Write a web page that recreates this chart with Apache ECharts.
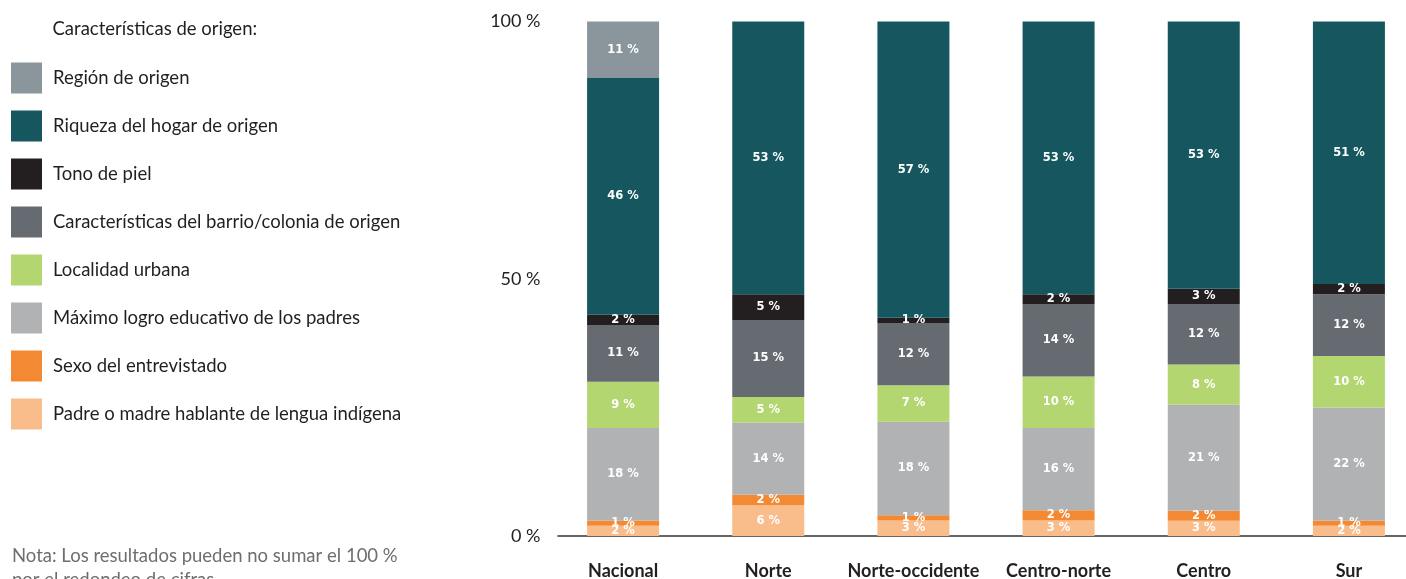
<!DOCTYPE html>
<html>
<head>
<meta charset="utf-8">
<script src="https://cdn.jsdelivr.net/npm/echarts@6/dist/echarts.min.js"></script>
<style>
  html, body { margin: 0; padding: 0; background: #ffffff; }
  #chart { width: 1406px; height: 579px; }
</style>
</head>
<body>
<div id="chart"></div>
<script>
// Regions compared
const categories = ['Nacional', 'Norte', 'Norte-occidente', 'Centro-norte', 'Centro', 'Sur'];

// Share (%) of inequality of opportunity attributed to each origin characteristic
const padreMadreIndigena = [2, 6, 3, 3, 3, 2];
const sexoEntrevistado   = [1, 2, 1, 2, 2, 1];
const maximoLogroPadres  = [18, 14, 18, 16, 21, 22];
const localidadUrbana    = [9, 5, 7, 10, 8, 10];
const barrioColonia      = [11, 15, 12, 14, 12, 12];
const tonoPiel           = [2, 5, 1, 2, 3, 2];
const riquezaHogar       = [46, 53, 57, 53, 53, 51];
const regionOrigen       = [11, 0, 0, 0, 0, 0];

const yTicks = [0, 50, 100];

const legendTitle = 'Características de origen:';
const noteLines = ['Nota: Los resultados pueden no sumar el 100 %', 'por el redondeo de cifras.'];

// Stack order, bottom to top
const layers = [
  { name: 'Padre o madre hablante de lengua indígena', values: padreMadreIndigena, color: '#f9bd8c' },
  { name: 'Sexo del entrevistado', values: sexoEntrevistado, color: '#f38a33' },
  { name: 'Máximo logro educativo de los padres', values: maximoLogroPadres, color: '#b0b2b3' },
  { name: 'Localidad urbana', values: localidadUrbana, color: '#b3d671' },
  { name: 'Características del barrio/colonia de origen', values: barrioColonia, color: '#666a71' },
  { name: 'Tono de piel', values: tonoPiel, color: '#231f20' },
  { name: 'Riqueza del hogar de origen', values: riquezaHogar, color: '#15565f' },
  { name: 'Región de origen', values: regionOrigen, color: '#8b959c' }
];

// Each bar is shown as a 100 % stack, so rounded shares are scaled by their column total
const totals = categories.map((_, i) => layers.reduce((s, l) => s + l.values[i], 0));

const series = layers.map(l => ({
  name: l.name,
  type: 'bar',
  stack: 'total',
  barWidth: 72,
  xAxisIndex: 0,
  yAxisIndex: 0,
  itemStyle: { color: l.color },
  label: {
    show: true,
    position: 'inside',
    color: '#ffffff',
    fontFamily: 'DejaVu Sans',
    fontWeight: 'bold',
    fontSize: 11.5,
    formatter: p => (l.values[p.dataIndex] > 0 ? l.values[p.dataIndex] + ' %' : '')
  },
  emphasis: { disabled: true },
  data: l.values.map((v, i) => v / totals[i] * 100)
}));

const chart = echarts.init(document.getElementById('chart'), null, { renderer: 'canvas' });

chart.setOption({
  animation: false,
  backgroundColor: '#ffffff',
  textStyle: { fontFamily: 'Lato' },
  grid: [
    { left: 550.5, width: 871, top: 21.5, bottom: 43, outerBoundsMode: 'none', containLabel: false },
    { left: 558, width: 864, top: 21.5, bottom: 43, outerBoundsMode: 'none', containLabel: false }
  ],
  title: {
    text: legendTitle,
    left: 52.5,
    top: 20,
    padding: 0,
    textStyle: { fontFamily: 'Lato', fontSize: 18.5, fontWeight: 'normal', color: '#231f20' }
  },
  legend: {
    orient: 'vertical',
    left: 11,
    top: 62.5,
    padding: 0,
    itemWidth: 31,
    itemHeight: 31,
    itemGap: 17,
    icon: 'rect',
    selectedMode: false,
    data: layers.slice().reverse().map(l => l.name),
    textStyle: {
      fontFamily: 'Lato',
      fontSize: 18.5,
      color: '#231f20',
      padding: [0, 0, 0, 6]
    }
  },
  xAxis: [
    {
      type: 'category',
      gridIndex: 0,
      data: categories,
      axisLine: { show: false },
      axisTick: { show: false },
      axisLabel: {
        margin: 26,
        fontFamily: 'Lato',
        fontWeight: 'bold',
        fontSize: 18,
        color: '#231f20',
        interval: 0
      }
    },
    {
      type: 'value',
      gridIndex: 1,
      min: 0,
      max: 1,
      axisLine: { show: true, lineStyle: { color: '#333333', width: 1.5 } },
      axisTick: { show: false },
      axisLabel: { show: false },
      splitLine: { show: false }
    }
  ],
  yAxis: [
    {
      type: 'value',
      gridIndex: 0,
      min: yTicks[0],
      max: yTicks[yTicks.length - 1],
      interval: yTicks[1] - yTicks[0],
      axisLine: { show: false },
      axisTick: { show: false },
      splitLine: { show: false },
      axisLabel: {
        margin: 10,
        fontFamily: 'Lato',
        fontSize: 18,
        color: '#231f20',
        formatter: '{value} %'
      }
    },
    {
      type: 'value',
      gridIndex: 1,
      min: 0,
      max: 1,
      show: false
    }
  ],
  graphic: [
    {
      type: 'text',
      left: 12,
      top: 544,
      style: {
        text: noteLines.join('\n'),
        fontFamily: 'Lato',
        fontSize: 18.5,
        lineHeight: 24,
        fill: '#6d6e70'
      }
    }
  ],
  series: series
});
</script>
</body>
</html>
